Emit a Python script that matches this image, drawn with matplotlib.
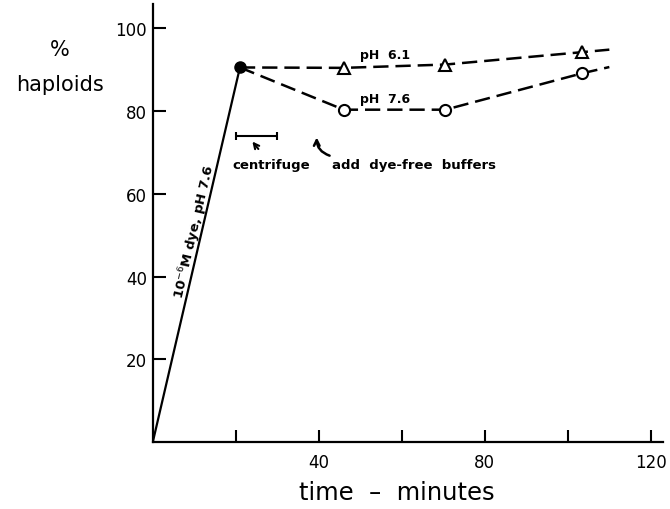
"""% haploids vs time after dye exposure, with dye-free buffers at pH 6.1 and 7.6."""
import matplotlib
matplotlib.use('Agg')
import matplotlib.pyplot as plt

# dye phase (solid line)
t_dye = [0, 21]
dye = [0, 90.5]

# after centrifuge, dye-free buffers (last point is the line end, no marker)
t_buf = [21, 46, 70.5, 103.5, 110]
ph61 = [90.5, 90.4, 91.2, 94.2, 94.8]
ph76 = [90.5, 80.3, 80.3, 89.1, 90.6]

x_ticks = [20, 40, 60, 80, 100, 120]
x_labels = ['', '40', '', '80', '', '120']
y_ticks = [20, 40, 60, 80, 100]

# centrifuge interval (minutes) and its height on the chart
centrifuge = (20, 30)
centrifuge_y = 73.9

plt.rcParams['lines.scale_dashes'] = False

fig = plt.figure(figsize=(6.7, 5.1), dpi=100)
ax = fig.add_axes([0.228, 0.131, 0.762, 0.859])

ax.plot(t_dye, dye, color='black', lw=1.6, solid_capstyle='butt', zorder=3)
ax.plot(t_buf, ph61, color='black', lw=1.8, dashes=(11, 5),
        marker='^', markevery=[1, 2, 3], ms=8, mfc='white', mec='black', mew=1.5, zorder=3)
ax.plot(t_buf, ph76, color='black', lw=1.8, dashes=(11, 5),
        marker='o', markevery=[1, 2, 3], ms=8, mfc='white', mec='black', mew=1.5, zorder=3)
ax.plot(t_dye[-1], dye[-1], 'o', color='black', ms=8, zorder=4)

# centrifuge bar
mid = (centrifuge[0] + centrifuge[1]) / 2
half = (centrifuge[1] - centrifuge[0]) / 2
ax.errorbar([mid], [centrifuge_y], xerr=[half], fmt='none', ecolor='black',
            elinewidth=1.5, capsize=3, capthick=1.5)

bold = dict(fontsize=9.5, fontweight='bold')
ax.annotate('centrifuge', xy=(24, 72.6), xytext=(28.5, 67), ha='center', va='center',
            arrowprops=dict(arrowstyle='->', color='black', lw=1.5,
                            shrinkA=6, shrinkB=0), **bold)
ax.annotate('', xy=(39.5, 73.6), xytext=(42.6, 69.2),
            arrowprops=dict(arrowstyle='->', color='black', lw=1.8,
                            connectionstyle='arc3,rad=-0.35', shrinkA=0, shrinkB=0))
ax.text(63, 67, 'add  dye-free  buffers', ha='center', va='center', **bold)
ax.text(56, 93.6, 'pH  6.1', ha='center', va='center', fontsize=9, fontweight='bold')
ax.text(56, 82.9, 'pH  7.6', ha='center', va='center', fontsize=9, fontweight='bold')
ax.text(10.2, 51, r'10$^{-6}$M dye, pH 7.6', rotation=76.9, ha='center', va='center',
        rotation_mode='anchor', **bold)

ax.set_xlim(0, 123)
ax.set_ylim(0, 105.8)
ax.spines['top'].set_visible(False)
ax.spines['right'].set_visible(False)
ax.spines['left'].set_linewidth(1.6)
ax.spines['bottom'].set_linewidth(1.6)
ax.set_xticks(x_ticks)
ax.set_xticklabels(x_labels)
ax.set_yticks(y_ticks)
ax.tick_params(direction='in', length=9, width=1.5, labelsize=12)
ax.tick_params(axis='x', pad=8)
ax.tick_params(axis='y', pad=4)

fig.text(0.0896, 0.902, '%', ha='center', va='center', fontsize=15)
fig.text(0.0896, 0.833, 'haploids', ha='center', va='center', fontsize=15)
fig.text(0.593, 0.033, 'time  –  minutes', ha='center', va='center', fontsize=17.5)

fig.savefig('out.png', dpi=100)
